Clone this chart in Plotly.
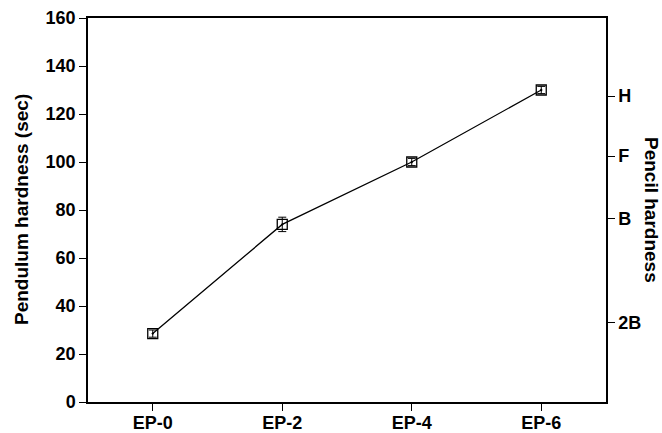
import plotly.graph_objects as go

categories = ["EP-0", "EP-2", "EP-4", "EP-6"]
pendulum = [28.5, 74, 100, 130]
pendulum_err = [1.5, 3, 1.5, 1.5]
pencil_labels = ["2B", "B", "F", "H"]
pencil_positions = [33, 76.5, 102.5, 127.5]
left_ticks = [0, 20, 40, 60, 80, 100, 120, 140, 160]

FONT = "Liberation Sans, Arial, sans-serif"
TICKFONT = dict(family=FONT, size=18, color="black", weight="bold")
TITLEFONT = dict(family=FONT, size=19, color="black", weight="bold")

fig = go.Figure()
fig.add_trace(go.Scatter(
    x=categories, y=pendulum,
    mode="lines+markers",
    line=dict(color="black", width=1.3),
    marker=dict(symbol="square-open-dot", size=10, color="black", line=dict(width=1.3, color="black")),
    error_y=dict(type="data", array=pendulum_err, visible=True, color="black", thickness=1, width=4),
    showlegend=False,
))
# invisible trace for secondary axis
fig.add_trace(go.Scatter(x=categories, y=pendulum, yaxis="y2", mode="markers",
                         marker=dict(opacity=0), showlegend=False, hoverinfo="skip"))

fig.update_layout(
    width=662, height=433,
    margin=dict(l=88, r=56, t=18, b=31, autoexpand=False),
    paper_bgcolor="white", plot_bgcolor="white",
    font=dict(family=FONT, color="black"),
    xaxis=dict(
        type="category", range=[-0.5, 3.5], automargin=False,
        showline=True, linecolor="black", linewidth=1.5, mirror=True,
        ticks="outside", ticklen=7, tickcolor="black", tickwidth=1.3,
        tickfont=TICKFONT, ticklabelstandoff=-3,
        showgrid=False, zeroline=False,
    ),
    yaxis=dict(
        range=[0, 160], tickvals=left_ticks, automargin=False,
        showline=True, linecolor="black", linewidth=1.5,
        ticks="outside", ticklen=7, tickcolor="black", tickwidth=1.3,
        tickfont=TICKFONT,
        showgrid=False, zeroline=False,
    ),
    yaxis2=dict(
        overlaying="y", side="right", range=[0, 160], automargin=False,
        tickvals=pencil_positions, ticktext=pencil_labels,
        showline=True, linecolor="black", linewidth=1.5,
        ticks="outside", ticklen=7, tickcolor="black", tickwidth=1.3,
        tickfont=TICKFONT,
        showgrid=False, zeroline=False,
    ),
    annotations=[
        dict(text="Pendulum hardness (sec)", textangle=-90, xref="paper", yref="paper",
             x=0.0, xshift=-67, y=0.5, xanchor="center", yanchor="middle", showarrow=False,
             font=TITLEFONT),
        dict(text="Pencil hardness", textangle=90, xref="paper", yref="paper",
             x=1.0, xshift=46, y=0.5, xanchor="center", yanchor="middle", showarrow=False,
             font=TITLEFONT),
    ],
)

fig.write_html("out.html")
